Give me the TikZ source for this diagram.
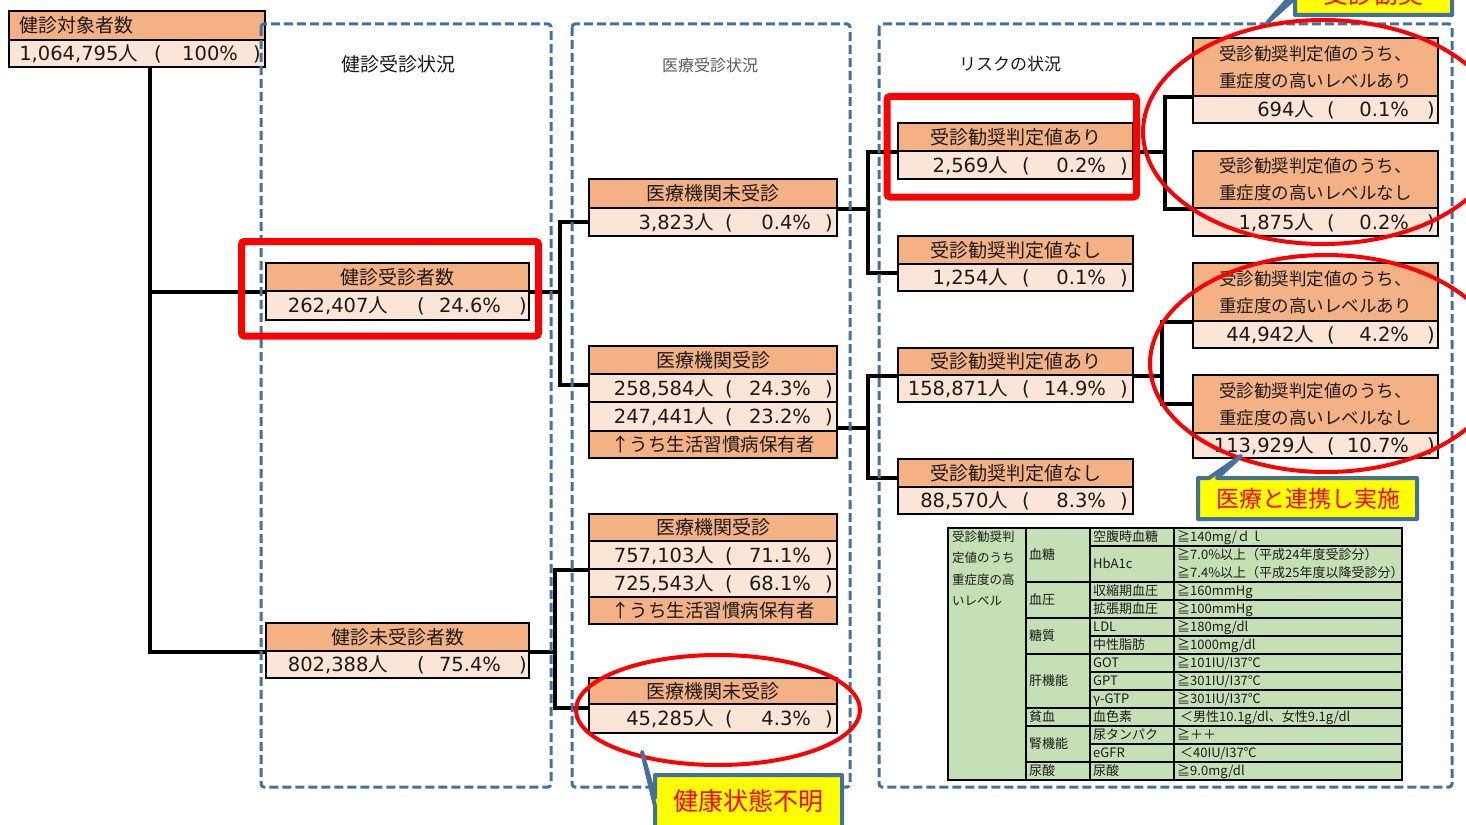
\documentclass[tikz,border=0pt]{standalone}
\usepackage{fontspec}
\setmainfont{Noto Sans CJK JP}
\newfontfamily\dv{DejaVu Sans}
\newcommand\setfs[1]{\fontsize{#1pt}{#1pt}\selectfont}
\newcommand\vrow[7]{\makebox[#1pt][l]{\rlap{\makebox[#2pt][r]{{\dv #6}人}}\rlap{\makebox[#3pt][c]{\dv(}}\rlap{\makebox[#4pt][r]{\dv #7}}\rlap{\makebox[#5pt][c]{\dv)}}}}
\newcommand\valTop[2]{\vrow{256}{129}{298}{229}{496}{#1}{#2}}
\newcommand\valLeft[2]{\vrow{263}{122}{310}{235}{514}{#1}{#2}}
\newcommand\valMed[2]{\vrow{248}{125}{280}{222}{480}{#1}{#2}}
\newcommand\valRisk[2]{\vrow{235}{110}{256}{208}{452}{#1}{#2}}
\newcommand\valRight[2]{\vrow{245}{121}{276}{216}{476}{#1}{#2}}
\definecolor{hdr}{HTML}{F4B183}
\definecolor{valc}{HTML}{FBE5D6}
\definecolor{dashc}{HTML}{41719C}
\definecolor{tbl}{HTML}{C5E0B4}
\definecolor{redc}{HTML}{FF0000}
\definecolor{ylw}{HTML}{FFFF00}
\definecolor{txt}{HTML}{1A1A1A}
\tikzset{
 boxbase/.style={draw=black, line width=2pt, inner sep=0pt, anchor=north west, text=txt},
 hd/.style={boxbase, fill=hdr, font=\setfs{19}, text height=15pt, text depth=0.5pt},
 hdtwo/.style={boxbase, fill=hdr, font={\fontsize{17.5pt}{27pt}\selectfont}, align=center},
 vl/.style={boxbase, fill=valc, font=\setfs{19.5}, text height=15pt, text depth=0.5pt},
 conn/.style={draw=black, line width=3.5pt},
 cont/.style={draw=dashc, line width=3pt, dash pattern=on 9pt off 4pt, rounded corners=3pt},
 redbox/.style={draw=redc, line width=7pt, rounded corners=3pt},
 redell/.style={draw=redc, line width=4pt},
 callout/.style={draw=dashc, fill=ylw, line width=4pt, line join=round},
 ctext/.style={text=redc, font=\setfs{25}, inner sep=0pt},
 ttl/.style={inner sep=0pt, text=txt},
 tt/.style={anchor=west, inner sep=0pt, font=\setfs{13}, text height=10pt, text depth=0.5pt, text=txt},
 tline/.style={draw=black, line width=1.5pt},
}
\begin{document}
\begin{tikzpicture}[x=1pt,y=-1pt]
\useasboundingbox (0,0) rectangle (1466,824);
\clip (0,0) rectangle (1466,824);

% ---------- boxes ----------
\node[hd, minimum width=256pt, minimum height=29pt, text width=236pt, align=left] (t0h) at (8,10) {健診対象者数};
\node[vl, minimum width=256pt, minimum height=27pt] (t0v) at (8,39) {\valTop{1,064,795}{100\%}};

\node[hd, minimum width=263pt, minimum height=28pt] (k1h) at (265,262) {健診受診者数};
\node[vl, minimum width=263pt, minimum height=29pt] (k1v) at (265,290) {\valLeft{262,407}{24.6\%}};
\node[hd, minimum width=263pt, minimum height=28pt] (k2h) at (265,622) {健診未受診者数};
\node[vl, minimum width=263pt, minimum height=27pt] (k2v) at (265,650) {\valLeft{802,388}{75.4\%}};

\node[hd, minimum width=248pt, minimum height=29pt] (m1h) at (588,178) {医療機関未受診};
\node[vl, minimum width=248pt, minimum height=28pt] (m1v) at (588,207) {\valMed{3,823}{0.4\%}};
\node[hd, minimum width=248pt, minimum height=28pt] (m2h) at (588,345) {医療機関受診};
\node[vl, minimum width=248pt, minimum height=28pt] (m2a) at (588,373) {\valMed{258,584}{24.3\%}};
\node[vl, minimum width=248pt, minimum height=29pt] (m2b) at (588,401) {\valMed{247,441}{23.2\%}};
\node[hd, font=\setfs{18.5}, minimum width=248pt, minimum height=27pt] (m2f) at (588,430) {↑うち生活習慣病保有者};
\node[hd, minimum width=248pt, minimum height=27pt] (m3h) at (588,513) {医療機関受診};
\node[vl, minimum width=248pt, minimum height=28pt] (m3a) at (588,540) {\valMed{757,103}{71.1\%}};
\node[vl, minimum width=248pt, minimum height=28pt] (m3b) at (588,568) {\valMed{725,543}{68.1\%}};
\node[hd, font=\setfs{18.5}, minimum width=248pt, minimum height=27pt] (m3f) at (588,596) {↑うち生活習慣病保有者};
\node[hd, minimum width=248pt, minimum height=26pt] (m4h) at (588,677) {医療機関未受診};
\node[vl, minimum width=248pt, minimum height=29pt] (m4v) at (588,703) {\valMed{45,285}{4.3\%}};

\node[hd, minimum width=235pt, minimum height=28pt] (r1h) at (897,122) {受診勧奨判定値あり};
\node[vl, minimum width=235pt, minimum height=28pt] (r1v) at (897,150) {\valRisk{2,569}{0.2\%}};
\node[hd, minimum width=235pt, minimum height=28pt] (r2h) at (897,235) {受診勧奨判定値なし};
\node[vl, minimum width=235pt, minimum height=27pt] (r2v) at (897,263) {\valRisk{1,254}{0.1\%}};
\node[hd, minimum width=235pt, minimum height=27pt] (r3h) at (897,347) {受診勧奨判定値あり};
\node[vl, minimum width=235pt, minimum height=27pt] (r3v) at (897,374) {\valRisk{158,871}{14.9\%}};
\node[hd, minimum width=235pt, minimum height=28pt] (r4h) at (897,458) {受診勧奨判定値なし};
\node[vl, minimum width=235pt, minimum height=27pt] (r4v) at (897,486) {\valRisk{88,570}{8.3\%}};

\node[hdtwo, minimum width=245pt, minimum height=58pt] (q1h) at (1192,37) {受診勧奨判定値のうち、\\重症度の高いレベルあり};
\node[vl, minimum width=245pt, minimum height=27pt] (q1v) at (1192,95) {\valRight{694}{0.1\%}};
\node[hdtwo, minimum width=245pt, minimum height=57pt] (q2h) at (1192,150) {受診勧奨判定値のうち、\\重症度の高いレベルなし};
\node[vl, minimum width=245pt, minimum height=28pt] (q2v) at (1192,207) {\valRight{1,875}{0.2\%}};
\node[hdtwo, minimum width=245pt, minimum height=58pt] (q3h) at (1192,262) {受診勧奨判定値のうち、\\重症度の高いレベルあり};
\node[vl, minimum width=245pt, minimum height=27pt] (q3v) at (1192,320) {\valRight{44,942}{4.2\%}};
\node[hdtwo, minimum width=245pt, minimum height=58pt] (q4h) at (1192,374) {受診勧奨判定値のうち、\\重症度の高いレベルなし};
\node[vl, minimum width=245pt, minimum height=25pt] (q4v) at (1192,432) {\valRight{113,929}{10.7\%}};

% ---------- connectors ----------
\coordinate (j0) at (150,0);
\draw[conn] (t0v.south -| j0) |- (k1h.south west);
\draw[conn] (t0v.south -| j0) |- (k2h.south west);

\draw[conn] (k1h.south east) -- ++(30,0) coordinate (j1);
\coordinate (m2in) at ([yshift=-10pt]m2h.south west);
\draw[conn] (m1v.west) -| (j1) |- (m2in);

\draw[conn] (k2h.south east) -- ++(25,0) coordinate (j2);
\coordinate (m4in) at ([yshift=-5pt]m4v.north west);
\draw[conn] (m3a.south west) -| (j2) |- (m4in);

\draw[conn] (m1h.south east) -- ++(30,0) coordinate (j3);
\coordinate (r2in) at ([yshift=-8pt]r2h.south west);
\draw[conn] (r1h.south west) -| (j3) |- (r2in);

\coordinate (m2out) at ([yshift=4pt]m2b.south east);
\draw[conn] (m2out) -- ++(30,0) coordinate (j4);
\coordinate (r4in) at ([yshift=-20pt]r4h.north west);
\draw[conn] (r3h.south west) -| (j4) |- (r4in);

\draw[conn] (r1h.south east) -- ++(31,0) coordinate (j5);
\draw[conn] (q1h.south west) -| (j5) |- (q2h.south west);
\draw[conn] (r3h.south east) -- ++(28,0) coordinate (j6);
\draw[conn] (q3h.south west) -| (j6) |- (q4h.west);

% ---------- table ----------
\fill[tbl] (948,528) rectangle (1402,780);
\draw[tline] (948,528) rectangle (1402,780);
\foreach \xx in {1026,1090,1174} \draw[tline] (\xx,528) -- (\xx,780);
\foreach \yy in {582,618,654,708,726,762} \draw[tline] (1026,\yy) -- (1402,\yy);
\foreach \yy in {546,600,636,672,690,744} \draw[tline] (1090,\yy) -- (1402,\yy);

\node[tt, font=\setfs{12.5}] (a1) at (952,537) {受診勧奨判};
\node[tt, font=\setfs{12.5}] (a2) at (952,558) {定値のうち};
\node[tt, font=\setfs{12.5}] (a3) at (952,580) {重症度の高};
\node[tt, font=\setfs{12.5}] (a4) at (952,601) {いレベル};

\node[tt] (b1) at (1029,555) {血糖};
\node[tt] (b2) at (1029,600) {血圧};
\node[tt] (b3) at (1029,636) {糖質};
\node[tt] (b4) at (1029,681) {肝機能};
\node[tt] (b5) at (1029,717) {貧血};
\node[tt] (b6) at (1029,744) {腎機能};
\node[tt] (b7) at (1029,771) {尿酸};

\node[tt] (c1) at (1093,537) {空腹時血糖};
\node[tt] (c2) at (1093,564) {HbA1c};
\node[tt] (c3) at (1093,591) {収縮期血圧};
\node[tt] (c4) at (1093,609) {拡張期血圧};
\node[tt] (c5) at (1093,627) {LDL};
\node[tt] (c6) at (1093,645) {中性脂肪};
\node[tt] (c7) at (1093,663) {GOT};
\node[tt] (c8) at (1093,681) {GPT};
\node[tt] (c9) at (1093,699) {γ-GTP};
\node[tt] (c10) at (1093,717) {血色素};
\node[tt] (c11) at (1093,735) {尿タンパク};
\node[tt] (c12) at (1093,753) {eGFR};
\node[tt] (c13) at (1093,771) {尿酸};

\node[tt] (d1) at (1177,537) {≧140mg/ｄｌ};
\node[tt] (d2) at (1177,555) {≧7.0\%以上（平成24年度受診分）};
\node[tt] (d3) at (1177,573) {≧7.4\%以上（平成25年度以降受診分）};
\node[tt] (d4) at (1177,591) {≧160mmHg};
\node[tt] (d5) at (1177,609) {≧100mmHg};
\node[tt] (d6) at (1177,627) {≧180mg/dl};
\node[tt] (d7) at (1177,645) {≧1000mg/dl};
\node[tt] (d8) at (1177,663) {≧101IU/I37℃};
\node[tt] (d9) at (1177,681) {≧301IU/I37℃};
\node[tt] (d10) at (1177,699) {≧301IU/I37℃};
\node[tt] (d11) at (1180,717) {＜男性10.1g/dl、女性9.1g/dl};
\node[tt] (d12) at (1177,735) {≧＋＋};
\node[tt] (d13) at (1180,753) {＜40IU/I37℃};
\node[tt] (d14) at (1177,771) {≧9.0mg/dl};

% ---------- containers ----------
\draw[cont] (261,24) rectangle (551,787);
\draw[cont] (572,24) rectangle (850,787);
\draw[cont] (879,24) rectangle (1452,787);
\node[ttl, font=\setfs{19}] (ti1) at (398,64) {健診受診状況};
\node[ttl, font=\setfs{16}, text=black!65] (ti2) at (710,65) {医療受診状況};
\node[ttl, font=\setfs{17}] (ti3) at (1010,64) {リスクの状況};

% ---------- red highlights ----------
\draw[redbox] (241.5,241.5) rectangle (538.5,336);
\draw[redbox] (887,96.5) rectangle (1136.5,197);
\draw[redell] (1323,132) ellipse [x radius=180pt, y radius=112pt];
\draw[redell] (1326,363.5) ellipse [x radius=176pt, y radius=108.5pt];
\draw[redell] (718,710) ellipse [x radius=142pt, y radius=55pt];

% ---------- callouts ----------
\draw[callout] (655,775) -- (842,775) -- (842,835) -- (655,835) -- (655,806) -- (642,752) -- (655,798) -- cycle;
\node[ctext] (co1) at (748,801) {健康状態不明};
\draw[callout] (1198,478) -- (1209,478) -- (1241,456) -- (1217,478) -- (1417,478) -- (1417,519) -- (1198,519) -- cycle;
\node[ctext, font=\setfs{23}] (co2) at (1308,499) {医療と連携し実施};
\draw[callout] (1295,-40) -- (1452,-40) -- (1452,15) -- (1295,15) -- (1295,-2) -- (1267,23) -- (1295,-9) -- cycle;
\node[ctext] (co3) at (1373,-6) {受診勧奨};
\end{tikzpicture}
\end{document}
